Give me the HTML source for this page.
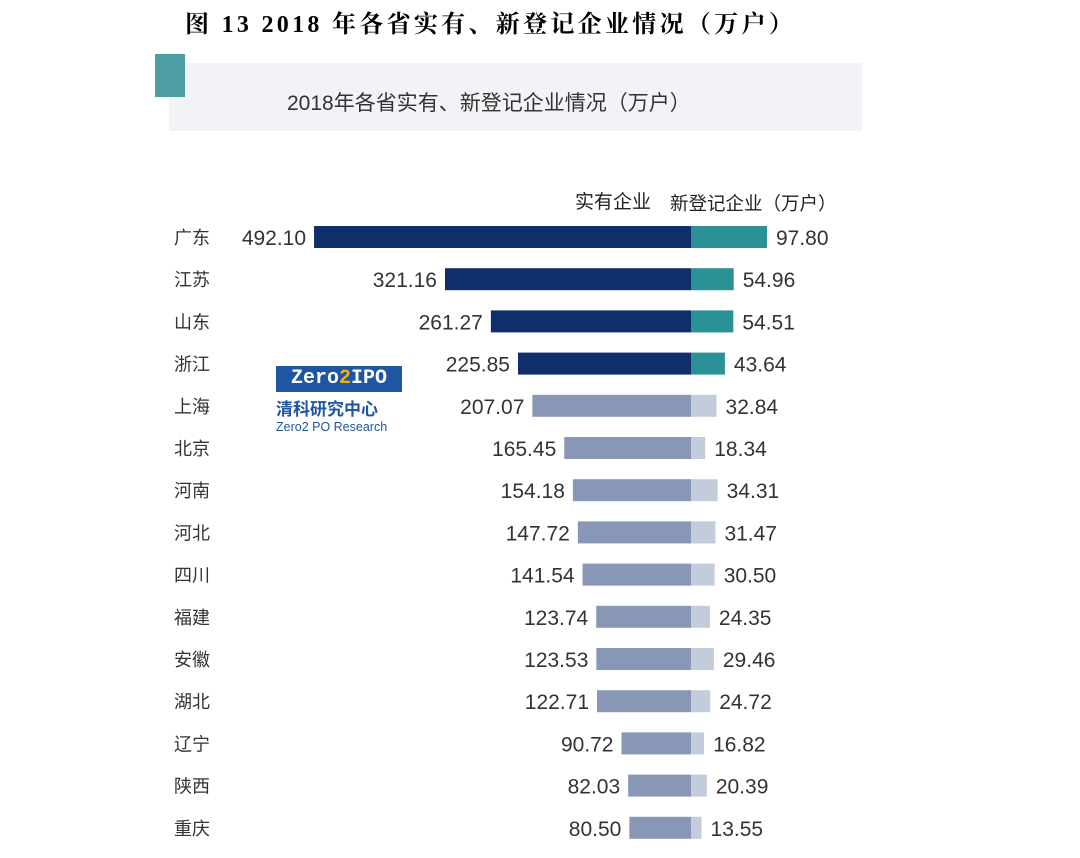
<!DOCTYPE html>
<html><head><meta charset="utf-8">
<style>
body{margin:0;width:1080px;height:858px;background:#fff;overflow:hidden;font-family:"Liberation Sans","Noto Sans CJK SC",sans-serif;}
.abs{position:absolute;}
</style></head>
<body>
<div class="abs" style="left:185px;top:4px;white-space:nowrap;font-family:'Liberation Serif','Noto Serif CJK SC',serif;font-weight:bold;font-size:24px;color:#000;letter-spacing:3.3px;">图 13 2018 年各省实有、新登记企业情况（万户）</div>
<div class="abs" style="left:169px;top:63px;width:693px;height:68px;background:#f2f3f6;"></div>
<div class="abs" style="left:155px;top:54px;width:30px;height:43px;background:#4d9ea3;"></div>
<div class="abs" style="left:287px;top:87px;white-space:nowrap;font-size:21px;color:#333;">2018年各省实有、新登记企业情况（万户）</div>
<div class="abs" style="left:276px;top:366px;">
 <div style="width:126px;height:26px;background:#1f56a3;color:#fff;font-family:'Liberation Mono',monospace;font-weight:bold;font-size:20px;line-height:26px;text-align:center;">Zero<span style="color:#f2b400">2</span>IPO</div>
 <div style="color:#1f56a3;font-weight:bold;font-size:17px;margin-top:3px;">清科研究中心</div>
 <div style="color:#1f56a3;font-size:12.5px;">Zero2 PO Research</div>
</div>
<svg class="abs" style="left:0;top:0" width="1080" height="858" id="chart"></svg>
<script>
const provinces=["广东","江苏","山东","浙江","上海","北京","河南","河北","四川","福建","安徽","湖北","辽宁","陕西","重庆"];
const existing=[492.10,321.16,261.27,225.85,207.07,165.45,154.18,147.72,141.54,123.74,123.53,122.71,90.72,82.03,80.50];
const newReg=[97.80,54.96,54.51,43.64,32.84,18.34,34.31,31.47,30.50,24.35,29.46,24.72,16.82,20.39,13.55];
const NS="http://www.w3.org/2000/svg";
const svg=document.getElementById('chart');
const cx=691, y0=237, step=42.2, bh=22;
const xL=v=>cx-v*0.766, xR=v=>cx+v*0.777;
function mk(t,a){const e=document.createElementNS(NS,t);for(const k in a)e.setAttribute(k,a[k]);svg.appendChild(e);return e;}
let h=mk('text',{x:651,y:208,'text-anchor':'end','font-size':19,fill:'#222'});h.textContent='实有企业';


h=mk('text',{x:670,y:210,'font-size':18.5,fill:'#222'});h.textContent='新登记企业（万户）';


provinces.forEach((p,i)=>{
 const y=y0+i*step, top=i<4;
 let t=mk('text',{x:174,y:y+7,'font-size':18,fill:'#333'});t.textContent=p;
 
 
 const l=xL(existing[i]);
 let r=mk('rect',{x:l,y:y-bh/2,width:cx-l,height:bh,fill:top?'#0f2f6b':'#8797b5'});
 
 
 t=mk('text',{x:l-8,y:y+8,'text-anchor':'end','font-size':21,fill:'#333'});t.textContent=existing[i].toFixed(2);
 
 
 const rr=xR(newReg[i]);
 r=mk('rect',{x:cx,y:y-bh/2,width:rr-cx,height:bh,fill:top?'#2a9196':'#c3ccda'});
 
 
 t=mk('text',{x:rr+9,y:y+8,'font-size':21,fill:'#333'});t.textContent=newReg[i].toFixed(2);
 
 
});
</script>
</body></html>
